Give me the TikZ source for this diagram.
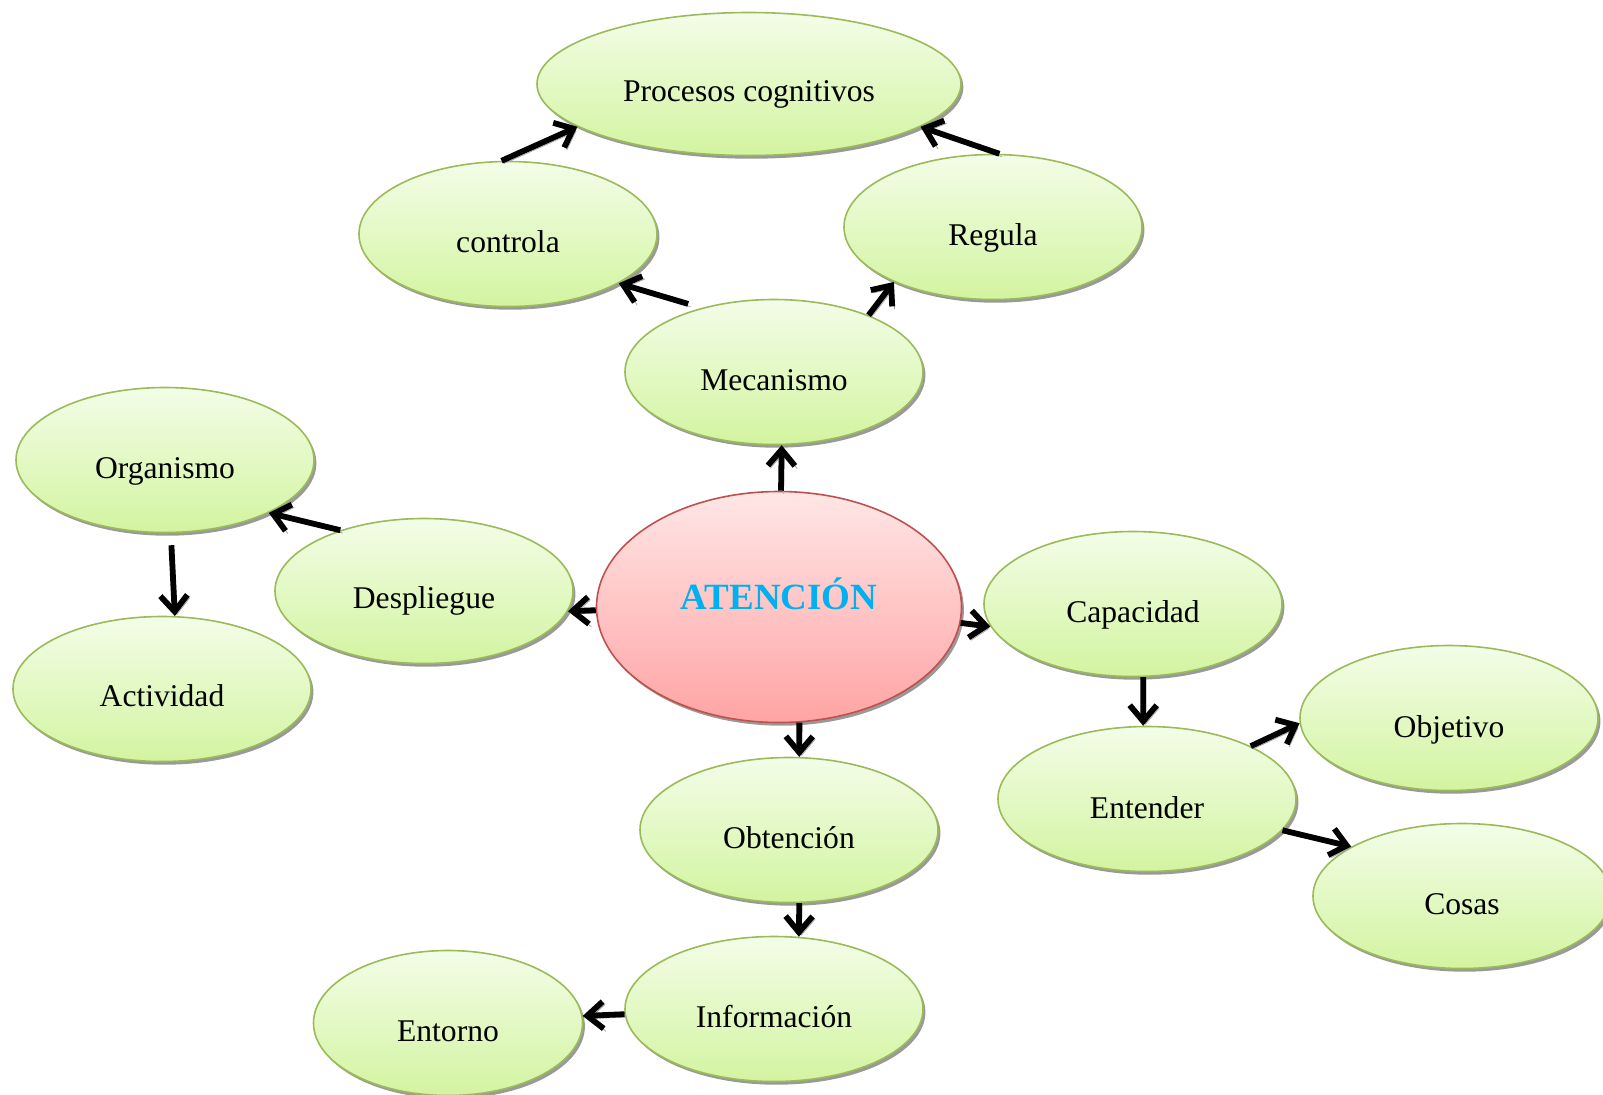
\documentclass[tikz,border=0pt]{standalone}
\usepackage{fontspec}
\setmainfont{Liberation Serif}
\usetikzlibrary{shapes.geometric,arrows.meta,shadows}
\definecolor{gtop}{HTML}{F3FDE8}
\definecolor{gbot}{HTML}{D3F4A0}
\definecolor{gedge}{HTML}{9BBB59}
\definecolor{rtop}{HTML}{FFE6E6}
\definecolor{rbot}{HTML}{FFA4A4}
\definecolor{redge}{HTML}{C0504D}
\definecolor{atxt}{HTML}{00B0F0}
\newcommand{\lowtxt}[2][4.8pt]{\raisebox{-#1}[\height][\depth]{#2}}
\begin{document}
\begin{tikzpicture}[x=0.5pt,y=-0.5pt,
  bub/.style={ellipse, draw=gedge, line width=0.8pt, top color=gtop, bottom color=gbot,
    minimum width=149pt, minimum height=72.5pt, inner sep=0pt,
    font=\fontsize{15.8}{18}\selectfont,
    drop shadow={shadow xshift=1.2pt, shadow yshift=-1.6pt, fill=black, opacity=0.4}},
  center/.style={ellipse, draw=redge, line width=0.8pt, top color=rtop, bottom color=rbot,
    minimum width=182.5pt, minimum height=115.5pt, inner sep=0pt,
    font=\fontsize{18.5}{20}\selectfont\bfseries, text=atxt,
    drop shadow={shadow xshift=1.2pt, shadow yshift=-1.6pt, fill=black, opacity=0.4}},
  conn/.style={line width=2.9pt, -{Straight Barb[length=8pt,width=13.5pt]},
    preaction={draw=black!35, transform canvas={shift={(1.2pt,-1.4pt)}}}}
]
\useasboundingbox (0,0) rectangle (1603,1094);

\node[bub, minimum width=212pt, minimum height=71.5pt] (proc) at (749,84) {\lowtxt[5pt]{Procesos cognitivos}};
\node[bub] (ctrl) at (508,234) {\lowtxt[4pt]{controla}};
\node[bub] (reg) at (993,227) {\lowtxt[5.5pt]{Regula}};
\node[bub] (mec) at (774,372) {\lowtxt[4pt]{Mecanismo}};
\node[bub] (org) at (165,460) {\lowtxt[5.5pt]{Organismo}};
\node[bub] (desp) at (424,591) {\lowtxt[5pt]{Despliegue}};
\node[center] (aten) at (779,607) {\raisebox{6.5pt}[\height][\depth]{ATENCIÓN}};
\node[bub] (cap) at (1133,604) {\lowtxt[5.5pt]{Capacidad}};
\node[bub] (act) at (162,689) {\lowtxt[3.5pt]{Actividad}};
\node[bub] (obj) at (1449,718) {\lowtxt[6pt]{Objetivo}};
\node[bub] (ent) at (1147,799) {\lowtxt[4.5pt]{Entender}};
\node[bub] (obt) at (789,830) {\lowtxt[4pt]{Obtención}};
\node[bub] (cosas) at (1462,896) {\lowtxt[4pt]{Cosas}};
\node[bub] (info) at (774,1009) {\lowtxt[4pt]{Información}};
\node[bub, minimum width=134.5pt] (ento) at (448,1023) {\lowtxt[4pt]{Entorno}};

\draw[conn] (aten.89) -- (mec.-84);
\draw[conn] ([yshift=4pt]mec.145) -- (ctrl.-24);
\draw[conn] (mec.31) -- (reg.209);
\draw[conn] (ctrl.95) -- (proc.194);
\draw[conn] (reg.85) -- (proc.-14);
\draw[conn] (aten.181) -- (desp.-8);
\draw[conn] (desp.144) -- (org.-27);
\draw[conn] ([yshift=-6pt]org.-85) -- (act.80);
\draw[conn] (aten.-5) -- (cap.189);
\draw[conn] (aten.-80) -- (obt.82);
\draw[conn] (cap.-82) -- (ent.93);
\draw[conn] (ent.27) -- (obj.182);
\draw[conn] (ent.-13) -- (cosas.156);
\draw[conn] (obt.-82) -- (info.71);
\draw[conn] (info.182) -- (ento.3);
\end{tikzpicture}
\end{document}
